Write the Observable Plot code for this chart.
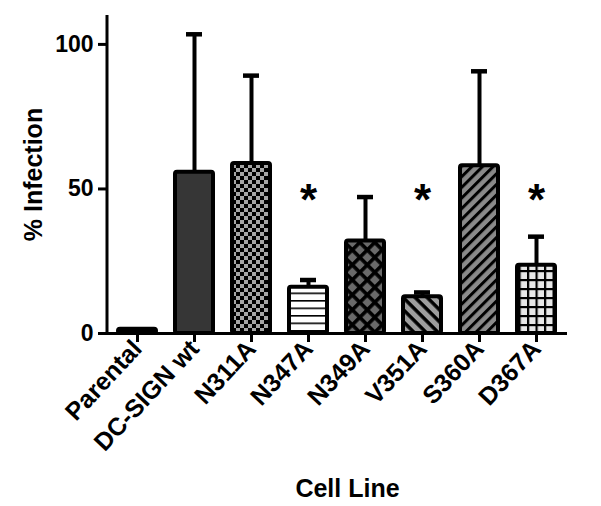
<!DOCTYPE html>
<html>
<head>
<meta charset="utf-8">
<script src="https://cdn.jsdelivr.net/npm/d3@7"></script>
<script src="https://cdn.jsdelivr.net/npm/@observablehq/plot@0.6"></script>
<style>
  html, body { margin: 0; padding: 0; background: #fff; }
  #chart { width: 601px; height: 506px; }
</style>
</head>
<body>
<div id="chart"></div>
<script>
// ---- data ----
const categories = ["Parental", "DC-SIGN wt", "N311A", "N347A", "N349A", "V351A", "S360A", "D367A"];
const meanValues = [1.5, 55.8, 58.8, 16, 32, 12.7, 58, 23.6];
const upperValues = [1.5, 103.5, 89.2, 18.5, 47.2, 14.2, 90.7, 33.5];
const significant = [false, false, false, true, false, true, false, true];
const yTicks = [0, 50, 100];
const starLevel = 46;
const xTitle = "Cell Line";
const yTitle = "% Infection";

// ---- fills per category (styles) ----
const fillFor = {
  "Parental": "#000000",
  "DC-SIGN wt": "#363636",
  "N311A": "url(#p-checker)",
  "N347A": "url(#p-hlines)",
  "N349A": "url(#p-diamond)",
  "V351A": "url(#p-back)",
  "S360A": "url(#p-fwd)",
  "D367A": "url(#p-grid)"
};

const data = categories.map((c, i) => ({cat: c, mean: meanValues[i], upper: upperValues[i], sig: significant[i]}));
const stars = data.filter(d => d.sig).map(d => ({cat: d.cat, y: starLevel}));

const NS = "http://www.w3.org/2000/svg";
function el(name, attrs, parent) {
  const e = document.createElementNS(NS, name);
  for (const k in attrs) e.setAttribute(k, attrs[k]);
  if (parent) parent.appendChild(e);
  return e;
}

function patternDefs() {
  const g = el("g", {});
  const defs = el("defs", {}, g);
  let p = el("pattern", {id: "p-checker", width: 8, height: 8, patternUnits: "userSpaceOnUse"}, defs);
  el("rect", {width: 8, height: 8, fill: "#a6a6a6"}, p);
  el("rect", {x: 0, y: 0, width: 4, height: 4, fill: "#000"}, p);
  el("rect", {x: 4, y: 4, width: 4, height: 4, fill: "#000"}, p);
  p = el("pattern", {id: "p-hlines", width: 8, height: 7.5, patternUnits: "userSpaceOnUse"}, defs);
  el("rect", {width: 8, height: 7.5, fill: "#fff"}, p);
  el("rect", {x: 0, y: 0, width: 8, height: 1.6, fill: "#000"}, p);
  p = el("pattern", {id: "p-diamond", width: 10.6, height: 10.6, patternUnits: "userSpaceOnUse", patternTransform: "rotate(45)"}, defs);
  el("rect", {width: 10.6, height: 10.6, fill: "#6a6a6a"}, p);
  el("rect", {x: 0, y: 0, width: 10.6, height: 3.6, fill: "#000"}, p);
  el("rect", {x: 0, y: 0, width: 3.6, height: 10.6, fill: "#000"}, p);
  p = el("pattern", {id: "p-back", width: 8.5, height: 8.5, patternUnits: "userSpaceOnUse", patternTransform: "rotate(45)"}, defs);
  el("rect", {width: 8.5, height: 8.5, fill: "#9e9e9e"}, p);
  el("rect", {x: 0, y: 0, width: 8.5, height: 3.5, fill: "#000"}, p);
  p = el("pattern", {id: "p-fwd", width: 7.5, height: 7.5, patternUnits: "userSpaceOnUse", patternTransform: "rotate(-45)"}, defs);
  el("rect", {width: 7.5, height: 7.5, fill: "#8a8a8a"}, p);
  el("rect", {x: 0, y: 0, width: 7.5, height: 3, fill: "#000"}, p);
  p = el("pattern", {id: "p-grid", width: 8.5, height: 9, patternUnits: "userSpaceOnUse"}, defs);
  el("rect", {width: 8.5, height: 9, fill: "#e8e8e8"}, p);
  el("rect", {x: 0, y: 0, width: 8.5, height: 2.2, fill: "#000"}, p);
  el("rect", {x: 0, y: 0, width: 2.2, height: 9, fill: "#000"}, p);
  return g;
}

function yAxisLine(index, scales, values, dims) {
  const g = el("g", {});
  el("line", {
    x1: dims.marginLeft, x2: dims.marginLeft,
    y1: dims.marginTop, y2: dims.height - dims.marginBottom + 1.5,
    stroke: "#000", "stroke-width": 3
  }, g);
  return g;
}

const chart = Plot.plot({
  width: 601,
  height: 506,
  marginLeft: 107,
  marginRight: 34,
  marginTop: 15,
  marginBottom: 173,
  style: {fontFamily: "'Liberation Sans', Arial, sans-serif", background: "#fff", color: "#000"},
  x: {domain: categories, paddingInner: 0.33, paddingOuter: 0.14, label: null},
  y: {domain: [0, 110], label: null},
  color: {type: "identity"},
  marks: [
    patternDefs,
    Plot.barY(data, {x: "cat", y: "mean", fill: d => fillFor[d.cat], stroke: "#000", strokeWidth: 4, strokeLinejoin: "round", rx: 2}),
    Plot.ruleX(data.filter(d => d.upper > d.mean), {x: "cat", y1: "mean", y2: "upper", stroke: "#000", strokeWidth: 4}),
    Plot.tickY(data.filter(d => d.upper > d.mean), {x: "cat", y: "upper", stroke: "#000", strokeWidth: 4.5, insetLeft: 11, insetRight: 11}),
    Plot.ruleY([0], {stroke: "#000", strokeWidth: 3}),
    yAxisLine,
    Plot.axisY({ticks: yTicks, tickSize: 9, tickPadding: 5, fontSize: 23, fontWeight: "bold", strokeWidth: 3, label: null}),
    Plot.axisX({tickSize: 9, tickPadding: 2, tickRotate: -47, fontSize: 25, fontWeight: "bold", strokeWidth: 3, label: null}),
    Plot.text(stars, {x: "cat", y: "y", text: () => "*", fontSize: 44, fontWeight: "bold"}),
    Plot.text([yTitle], {frameAnchor: "left", textAnchor: "middle", lineAnchor: "middle", rotate: -90, dx: -74, fontSize: 25, fontWeight: "bold"}),
    Plot.text([xTitle], {frameAnchor: "bottom", textAnchor: "middle", lineAnchor: "middle", dx: 10, dy: 155, fontSize: 25, fontWeight: "bold"})
  ]
});
document.getElementById("chart").appendChild(chart);
</script>
</body>
</html>
